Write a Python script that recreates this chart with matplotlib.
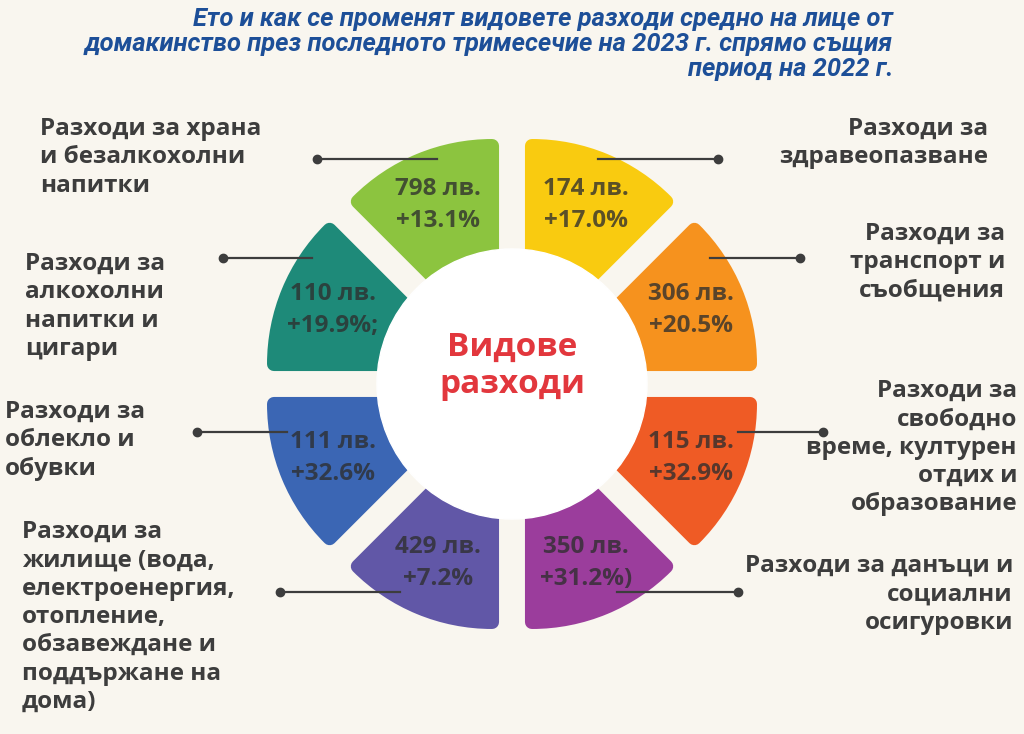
import numpy as np
import matplotlib.pyplot as plt

# Spending categories, clockwise from 12 o'clock
categories = [
    "Разходи за\nздравеопазване",
    "Разходи за\nтранспорт и\nсъобщения",
    "Разходи за\nсвободно\nвреме, културен\nотдих и\nобразование",
    "Разходи за данъци и\nсоциални\nосигуровки",
    "Разходи за\nжилище (вода,\nелектроенергия,\nотопление,\nобзавеждане и\nподдържане на\nдома)",
    "Разходи за\nоблекло и\nобувки",
    "Разходи за\nалкохолни\nнапитки и\nцигари",
    "Разходи за храна\nи безалкохолни\nнапитки",
]
amounts = [174, 306, 115, 350, 429, 111, 110, 798]           # лв. per household member
changes = ["+17.0%", "+20.5%", "+32.9%", "+31.2%)", "+7.2%", "+32.6%", "+19.9%;", "+13.1%"]
slice_share = [1, 1, 1, 1, 1, 1, 1, 1]                       # every segment is drawn the same size
colors = ["#f9cb10", "#f6921e", "#ef5b25", "#9b3d9c", "#6157a7", "#3b66b4", "#1e8a79", "#8cc43f"]

title = ("Ето и как се променят видовете разходи средно на лице от\n"
         "домакинство през последното тримесечие на 2023 г. спрямо същия\n"
         "период на 2022 г.")

BG = "#f9f6ef"
INK = "#3d3d3d"
CX, CY = 512, 384

# label anchors (pixel coords, y down): x, y of first line, alignment
label_pos = [
    (988, 130, "right"), (1005, 235, "right"), (1017, 392, "right"), (1013, 567, "right"),
    (22, 533, "left"), (5, 413, "left"), (25, 265, "left"), (40, 130, "left"),
]
# connector lines: (dot x, end x, y)
connectors = [
    (718, 598, 159), (800, 710, 258), (823, 738, 432), (738, 617, 592),
    (280, 400, 592), (197, 287, 432), (223, 312, 258), (317, 437, 159),
]

fig = plt.figure(figsize=(10.24, 7.34), dpi=100, facecolor=BG)
ax = fig.add_axes([0, 0, 1, 1])
ax.set_facecolor(BG)

# y axis is inverted (pixel space), so counterclock in data = clockwise on screen
# explode is in data units here; it opens equal-width gaps between segments
wedges, _ = ax.pie(slice_share, colors=colors, startangle=-90, counterclock=True,
                   radius=190, center=(CX, CY), explode=[52] * 8,
                   wedgeprops=dict(linewidth=10, joinstyle="round"))
for w, c in zip(wedges, colors):
    w.set_edgecolor(c)

ax.add_patch(plt.Circle((CX, CY), 135, color="white", zorder=3))
ax.text(CX, 366, "Видове\nразходи", ha="center", va="center", color="#e2373d",
        fontsize=24, fontweight="bold", family="Open Sans", linespacing=1.15, zorder=4)

for w, amt, ch in zip(wedges, amounts, changes):
    a = np.deg2rad((w.theta1 + w.theta2) / 2)
    ax.text(CX + 194 * np.cos(a), CY + 194 * np.sin(a), f"{amt} лв.\n{ch}",
            ha="center", va="center", fontsize=17.5, fontweight="bold",
            family="Open Sans", color="#2e2e2e", alpha=0.78, linespacing=1.42, zorder=5)

for lab, (x, y, ha) in zip(categories, label_pos):
    ax.text(x, y - 13, lab, ha=ha, va="top", multialignment=ha, fontsize=17.5,
            fontweight="bold", family="Open Sans", color=INK, linespacing=1.24)

for xd, xe, y in connectors:
    ax.plot([xd, xe], [y, y], color=INK, lw=1.6, zorder=6)
    ax.plot(xd, y, "o", color=INK, ms=6, zorder=6)

ax.text(893, 7, title, ha="right", va="top", multialignment="right", fontsize=18.4,
        fontweight="bold", style="italic", family="Roboto", color="#1d4f98", linespacing=1.04)

ax.set_xlim(0, 1024)
ax.set_ylim(734, 0)
ax.set_aspect("equal")
ax.axis("off")

plt.savefig("out.png", dpi=100, facecolor=BG)
